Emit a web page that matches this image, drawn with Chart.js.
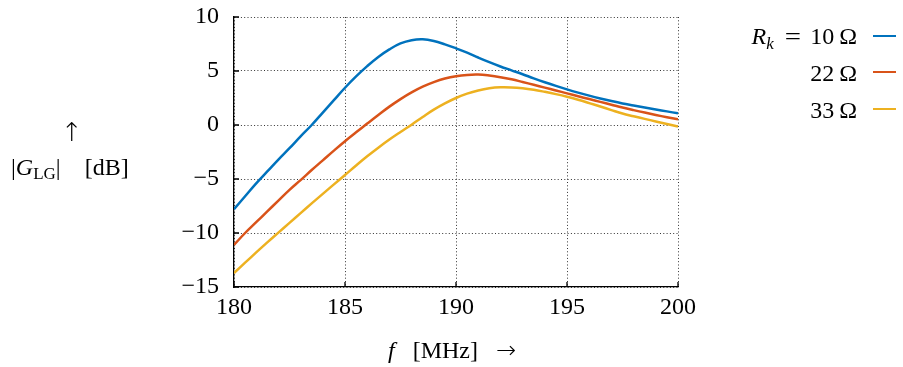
<!DOCTYPE html>
<html>
<head>
<meta charset="utf-8">
<script src="https://cdn.jsdelivr.net/npm/chart.js@4/dist/chart.umd.min.js"></script>
<style>
  html, body { margin: 0; padding: 0; background: #fff; }
  #wrap { position: relative; width: 903px; height: 367px; font-family: "Liberation Serif", serif; color: #000; }
  #c { position: absolute; left: 0; top: 0; }
  .t { position: absolute; white-space: nowrap; font-size: 24px; line-height: 1; }
  .leg { position: absolute; right: 46px; text-align: right; }
  .sw { position: absolute; left: 873px; width: 23px; height: 0; border-top: 2.5px solid; }
  .arr { font-family: "DejaVu Sans", sans-serif; font-weight: 200; }
</style>
</head>
<body>
<div id="wrap">
  <canvas id="c" width="903" height="367"></canvas>
  <div class="t arr" style="left:61px; top:119px; font-size:26px;">↑</div>
  <div class="t" style="left:11px; top:155px;">|<i>G</i><span style="font-size:17px; position:relative; top:4px;">LG</span>|<span style="display:inline-block; width:24px;"></span>[dB]</div>
  <div class="t" style="left:388px; top:338px;"><i>f</i>&nbsp;&nbsp;&nbsp;[MHz]&nbsp;&nbsp;&nbsp;<span class="arr" style="font-size:24px;">→</span></div>
  <div class="t leg" style="top:24px;"><i>R</i><span style="font-size:17px; position:relative; top:5px;"><i>k</i></span><span style="display:inline-block; margin:0 11px 0 12px; transform:scaleX(1.2);">=</span>10&#8201;Ω</div>
  <div class="t leg" style="top:61px;">22&#8201;Ω</div>
  <div class="t leg" style="top:98px;">33&#8201;Ω</div>
  <div class="sw" style="top:35px; border-color:#0072BD;"></div>
  <div class="sw" style="top:71px; border-color:#D95319;"></div>
  <div class="sw" style="top:108px; border-color:#EDB120;"></div>
</div>
<script>
const freq = [180,180.5,181,181.5,182,182.5,183,183.5,184,184.5,185,185.5,186,186.5,187,187.5,188,188.5,189,189.5,190,190.5,191,191.5,192,192.5,193,193.5,194,194.5,195,195.5,196,196.5,197,197.5,198,198.5,199,199.5,200];
const g10 = [-7.8,-6.6,-5.4,-4.3,-3.2,-2.15,-1.05,0.0,1.15,2.3,3.45,4.5,5.45,6.3,7.0,7.55,7.85,7.93,7.78,7.47,7.1,6.7,6.25,5.82,5.42,5.06,4.7,4.32,3.96,3.62,3.3,3.0,2.72,2.46,2.22,2.0,1.81,1.62,1.44,1.26,1.08];
const g22 = [-11.1,-10.0,-9.0,-8.0,-7.0,-6.0,-5.1,-4.17,-3.27,-2.37,-1.5,-0.68,0.13,0.93,1.7,2.4,3.02,3.55,3.97,4.3,4.52,4.64,4.67,4.58,4.43,4.23,3.98,3.72,3.46,3.2,2.93,2.66,2.4,2.14,1.88,1.62,1.38,1.15,0.93,0.72,0.52];
const g33 = [-13.7,-12.75,-11.8,-10.87,-9.96,-9.06,-8.16,-7.26,-6.38,-5.5,-4.63,-3.75,-2.9,-2.1,-1.35,-0.65,0.03,0.74,1.42,2.0,2.5,2.9,3.2,3.4,3.49,3.48,3.4,3.26,3.07,2.86,2.62,2.34,2.03,1.71,1.38,1.06,0.81,0.57,0.33,0.09,-0.15];
const xTicks = [180,185,190,195,200];
const yTicks = [-15,-10,-5,0,5,10];

const mk = (arr, color) => ({
  data: freq.map((f, i) => ({ x: f, y: arr[i] })),
  borderColor: color, borderWidth: 2.5, pointRadius: 0, fill: false,
  tension: 0.4
});

const inwardTicks = {
  id: 'inwardTicks',
  afterDraw(chart) {
    const { ctx, chartArea: a, scales: { x, y } } = chart;
    ctx.save();
    ctx.strokeStyle = '#000'; ctx.lineWidth = 1.3;
    ctx.beginPath();
    xTicks.forEach(v => { const px = x.getPixelForValue(v); ctx.moveTo(px, a.bottom); ctx.lineTo(px, a.bottom - 5); });
    yTicks.forEach(v => { const py = y.getPixelForValue(v); ctx.moveTo(a.left, py); ctx.lineTo(a.left + 5, py); });
    ctx.stroke();
    ctx.restore();
  }
};

const gridOpts = { color: '#333', lineWidth: 1, tickLength: 0, drawTicks: false };
const borderOpts = { display: true, color: '#000', width: 1.3, dash: [1, 2.3] };

new Chart(document.getElementById('c'), {
  type: 'line',
  data: { datasets: [mk(g10, '#0072BD'), mk(g22, '#D95319'), mk(g33, '#EDB120')] },
  options: {
    responsive: false, animation: false,
    layout: { padding: { left: 164, right: 225, top: 17, bottom: 40 } },
    plugins: { legend: { display: false }, tooltip: { enabled: false } },
    scales: {
      x: {
        type: 'linear', min: 180, max: 200,
        afterBuildTicks: s => { s.ticks = xTicks.map(v => ({ value: v })); },
        afterFit: s => { s.height = 40; s.paddingLeft = 0; s.paddingRight = 0; },
        grid: gridOpts,
        border: borderOpts,
        ticks: { color: '#000', padding: 6, maxRotation: 0, font: { family: 'Liberation Serif', size: 24 } }
      },
      y: {
        min: -15, max: 10,
        afterBuildTicks: s => { s.ticks = yTicks.map(v => ({ value: v })); },
        afterFit: s => { s.width = 70; s.paddingTop = 0; s.paddingBottom = 0; },
        grid: gridOpts,
        border: borderOpts,
        ticks: { color: '#000', padding: 15, font: { family: 'Liberation Serif', size: 24 },
                 callback: v => String(v).replace('-', '\u2212') }
      }
    }
  },
  plugins: [inwardTicks]
});
</script>
</body>
</html>
